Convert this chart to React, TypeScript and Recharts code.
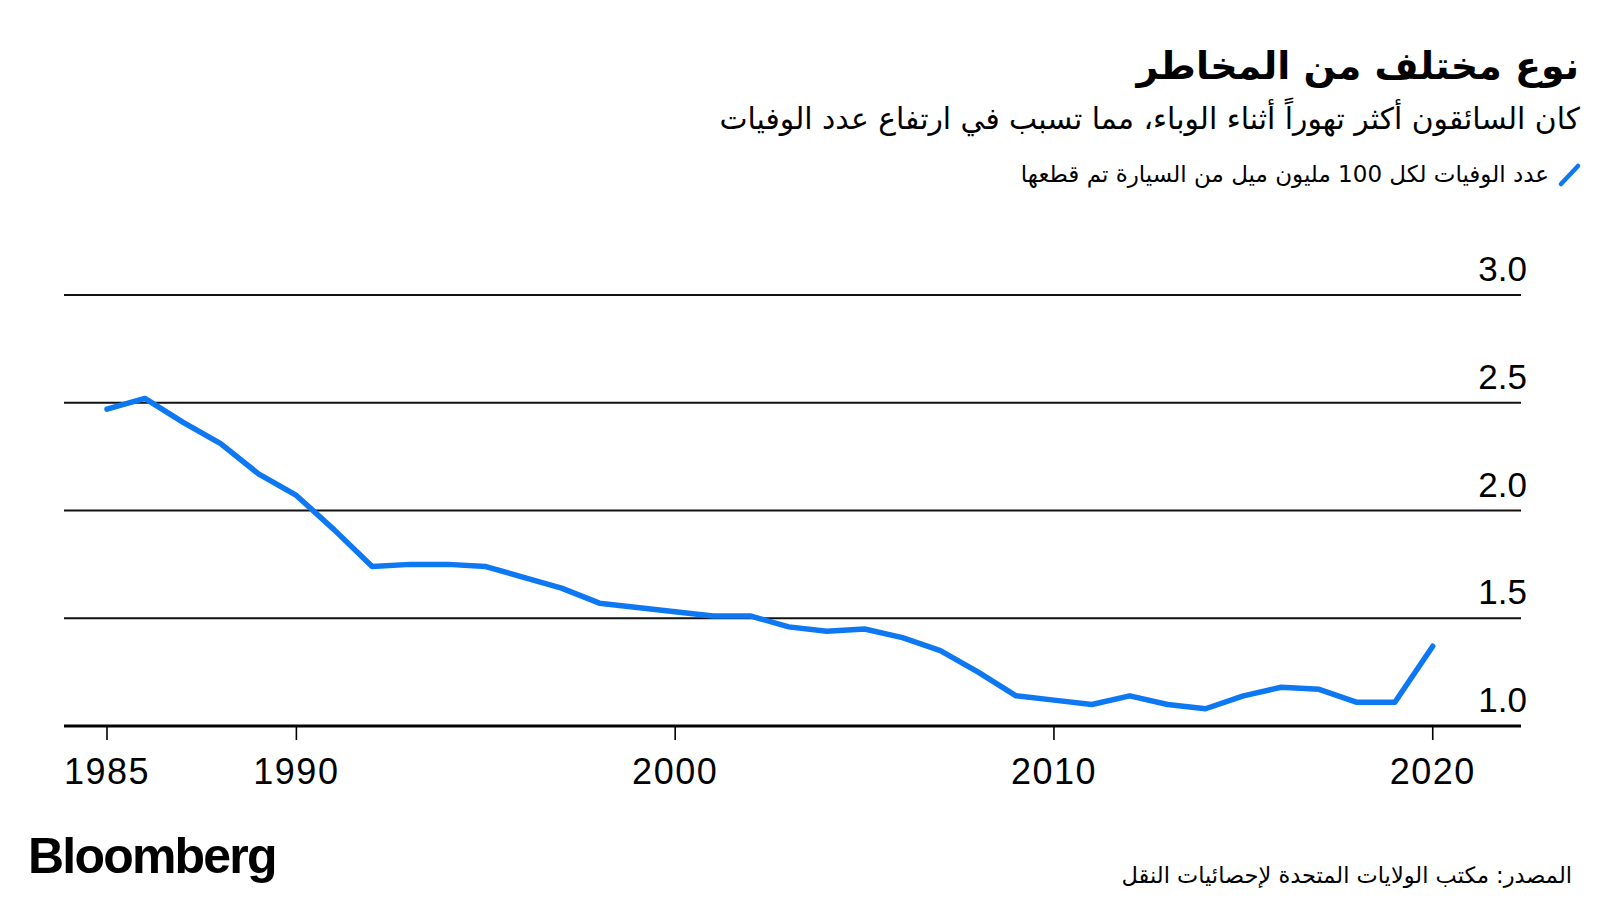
import React from "react";
import { LineChart, Line, XAxis, YAxis, CartesianGrid } from "recharts";

const years = [
  1985, 1986, 1987, 1988, 1989, 1990, 1991, 1992, 1993, 1994, 1995, 1996,
  1997, 1998, 1999, 2000, 2001, 2002, 2003, 2004, 2005, 2006, 2007, 2008,
  2009, 2010, 2011, 2012, 2013, 2014, 2015, 2016, 2017, 2018, 2019, 2020,
];
const fatalityRate = [
  2.47, 2.52, 2.41, 2.31, 2.17, 2.07, 1.91, 1.74, 1.75, 1.75, 1.74, 1.69,
  1.64, 1.57, 1.55, 1.53, 1.51, 1.51, 1.46, 1.44, 1.45, 1.41, 1.35, 1.25,
  1.14, 1.12, 1.1, 1.14, 1.1, 1.08, 1.14, 1.18, 1.17, 1.11, 1.11, 1.37,
];
const xTicks = [1985, 1990, 2000, 2010, 2020];
const yTicks = [1.0, 1.5, 2.0, 2.5, 3.0];

const titleText = "نوع مختلف من المخاطر";
const subtitleText =
  "كان السائقون أكثر تهوراً أثناء الوباء، مما تسبب في ارتفاع عدد الوفيات";
const legendText = "عدد الوفيات لكل 100 مليون ميل من السيارة تم قطعها";
const sourceText = "المصدر: مكتب الولايات المتحدة لإحصائيات النقل";
const logoText = "Bloomberg";

const data = years.map((y, i) => ({ year: y, rate: fatalityRate[i] }));

const LINE_COLOR = "#0d78f2";
const NUM_FONT = "'Liberation Sans', Arial, Helvetica, sans-serif";
const AR_FONT = "'DejaVu Sans', sans-serif";

const YTick = (props: any) => {
  const { y, payload } = props;
  return (
    <text
      x={1527}
      y={y - 14}
      textAnchor="end"
      fontSize={35}
      fontFamily={NUM_FONT}
      fill="#000"
    >
      {Number(payload.value).toFixed(1)}
    </text>
  );
};

const XTick = (props: any) => {
  const { x, y, payload } = props;
  return (
    <text
      x={x}
      y={y}
      dy="0.71em"
      textAnchor="middle"
      fontSize={36}
      letterSpacing={1.5}
      fontFamily={NUM_FONT}
      fill="#000"
    >
      {payload.value}
    </text>
  );
};

export default function App() {
  return (
    <div
      style={{
        position: "absolute",
        left: 0,
        top: 0,
        width: 1600,
        height: 900,
        background: "#fff",
        overflow: "hidden",
      }}
    >
      <div
        dir="rtl"
        style={{
          position: "absolute",
          right: 21,
          top: 36,
          fontFamily: AR_FONT,
          fontWeight: 700,
          fontSize: 38,
          lineHeight: "60px",
          color: "#000",
          whiteSpace: "nowrap",
        }}
      >
        {titleText}
      </div>
      <div
        dir="rtl"
        style={{
          position: "absolute",
          right: 20,
          top: 98,
          fontFamily: AR_FONT,
          fontSize: 29.8,
          lineHeight: "42px",
          color: "#000",
          whiteSpace: "nowrap",
        }}
      >
        {subtitleText}
      </div>
      <svg
        style={{ position: "absolute", left: 1556, top: 160 }}
        width={30}
        height={30}
      >
        <line
          x1={5}
          y1={24}
          x2={22}
          y2={6}
          stroke={LINE_COLOR}
          strokeWidth={4.5}
          strokeLinecap="round"
        />
      </svg>
      <div
        dir="rtl"
        style={{
          position: "absolute",
          right: 51,
          top: 159,
          fontFamily: AR_FONT,
          fontSize: 23,
          lineHeight: "30px",
          color: "#000",
          whiteSpace: "nowrap",
        }}
      >
        {legendText}
      </div>

      <div style={{ position: "absolute", left: 0, top: 0 }}>
        <LineChart
          width={1600}
          height={900}
          data={data}
          margin={{ top: 295, right: 19, bottom: 114, left: 64 }}
        >
          <CartesianGrid
            horizontal={true}
            vertical={false}
            stroke="#111"
            strokeWidth={1.8}
          />
          <XAxis
            dataKey="year"
            type="number"
            domain={[1983.865, 2022.33]}
            allowDataOverflow
            ticks={xTicks}
            interval={0}
            tickSize={14}
            tickMargin={18}
            axisLine={{ stroke: "#000", strokeWidth: 3 }}
            tickLine={{ stroke: "#000", strokeWidth: 1.6 }}
            tick={<XTick />}
            height={60}
          />
          <YAxis
            orientation="right"
            type="number"
            domain={[1, 3]}
            ticks={yTicks}
            axisLine={false}
            tickLine={false}
            width={60}
            tick={<YTick />}
            interval={0}
          />
          <Line
            type="linear"
            dataKey="rate"
            stroke={LINE_COLOR}
            strokeWidth={5.5}
            dot={false}
            isAnimationActive={false}
            strokeLinejoin="round"
            strokeLinecap="round"
          />
        </LineChart>
      </div>

      <div
        style={{
          position: "absolute",
          left: 28,
          top: 826,
          fontFamily: NUM_FONT,
          fontWeight: 700,
          fontSize: 50,
          letterSpacing: -1.8,
          lineHeight: "60px",
          color: "#000",
          whiteSpace: "nowrap",
        }}
      >
        {logoText}
      </div>
      <div
        dir="rtl"
        style={{
          position: "absolute",
          right: 28,
          top: 860,
          fontFamily: AR_FONT,
          fontSize: 22.5,
          lineHeight: "30px",
          color: "#000",
          whiteSpace: "nowrap",
        }}
      >
        {sourceText}
      </div>
    </div>
  );
}
